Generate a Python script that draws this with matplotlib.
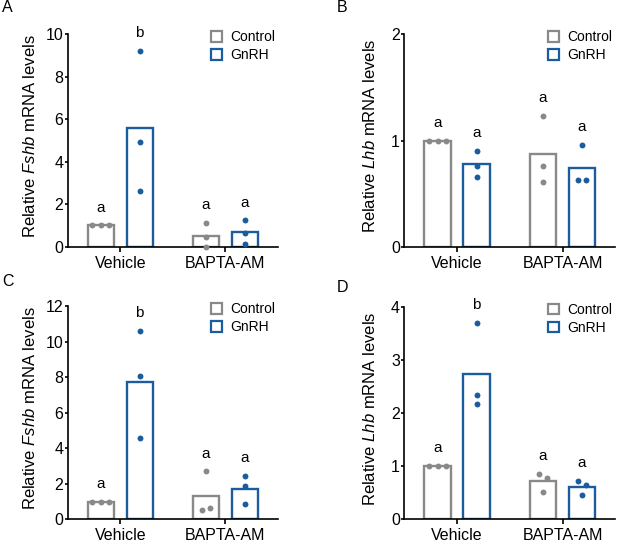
import matplotlib
matplotlib.use("Agg")
import matplotlib.pyplot as plt
from matplotlib.patches import Patch
import numpy as np

plt.rcParams["font.family"] = ["Liberation Sans", "DejaVu Sans"]
plt.rcParams["mathtext.fontset"] = "custom"
plt.rcParams["mathtext.rm"] = "Liberation Sans"
plt.rcParams["mathtext.it"] = "Liberation Sans:italic"

GRAY = "#898989"
BLUE = "#1b5c9e"

groups = ["Vehicle", "BAPTA-AM"]
series = ["Control", "GnRH"]

# individual replicate values, per panel: [group][series] -> points
fshb_a = [[[1.0, 1.0, 1.0], [9.23, 4.91, 2.64]],
          [[1.13, 0.44, 0.0], [1.24, 0.63, 0.14]]]
lhb_b = [[[1.0, 1.0, 1.0], [0.904, 0.763, 0.656]],
         [[1.234, 0.76, 0.612], [0.961, 0.625, 0.625]]]
fshb_c = [[[1.0, 1.0, 1.0], [10.61, 8.06, 4.56]],
          [[2.70, 0.51, 0.66], [2.46, 1.88, 0.85]]]
lhb_d = [[[1.0, 1.0, 1.0], [3.70, 2.34, 2.17]],
         [[0.86, 0.77, 0.51], [0.73, 0.65, 0.45]]]

letters_a = [["a", "b"], ["a", "a"]]
letters_b = [["a", "a"], ["a", "a"]]
letters_c = [["a", "b"], ["a", "a"]]
letters_d = [["a", "b"], ["a", "a"]]

ticks_a = [0, 2, 4, 6, 8, 10]
ticks_b = [0, 1, 2]
ticks_c = [0, 2, 4, 6, 8, 10, 12]
ticks_d = [0, 1, 2, 3, 4]


def spread(vals, ymax, step=0.08):
    """Horizontal offsets so that overlapping dots sit side by side."""
    vals = np.asarray(vals, dtype=float)
    thr = 0.033 * ymax
    offs = np.zeros(len(vals))
    seen = set()
    for i in range(len(vals)):
        if i in seen:
            continue
        grp = [j for j in range(len(vals)) if j not in seen and abs(vals[j] - vals[i]) < thr]
        seen.update(grp)
        n = len(grp)
        for k, j in enumerate(grp):
            offs[j] = (k - (n - 1) / 2) * step
    return offs


def draw_panel(ax, data, letters, ticks, gene, label_x):
    ymax = ticks[-1]
    colors = [GRAY, BLUE]
    for gi, grp in enumerate(data):
        for si, pts in enumerate(grp):
            x = gi + (-0.185 if si == 0 else 0.185)
            ax.bar(x, np.mean(pts), width=0.25, facecolor="white",
                   edgecolor=colors[si], linewidth=1.7, zorder=2)
            ax.scatter(x + spread(pts, ymax), pts, s=18, color=colors[si],
                       linewidths=0, zorder=3, clip_on=False)
            ax.text(x, max(pts) + 0.065 * ymax, letters[gi][si], ha="center",
                    va="baseline", fontsize=11)

    ax.set_xlim(-0.5, 1.5)
    ax.set_ylim(0, ymax)
    ax.set_yticks(ticks)
    ax.set_xticks([0, 1])
    ax.set_xticklabels(groups)
    ax.tick_params(axis="y", length=2.2, width=1.2, pad=1, labelsize=11.5)
    ax.tick_params(axis="x", length=3.5, width=1.2, pad=3, labelsize=11.5)
    for side in ["top", "right"]:
        ax.spines[side].set_visible(False)
    for side in ["left", "bottom"]:
        ax.spines[side].set_linewidth(1.2)

    ax.set_ylabel(f"Relative $\\it{{{gene}}}$ mRNA levels", fontsize=12, va="center")
    ax.yaxis.set_label_coords(label_x, 0.52)

    handles = [Patch(facecolor="white", edgecolor=c, linewidth=1.6) for c in colors]
    ax.legend(handles, series, loc="upper left", bbox_to_anchor=(0.68, 1.02),
              frameon=False, fontsize=10, handlelength=0.8, handleheight=0.8,
              handletextpad=0.6, labelspacing=0.3, borderpad=0, borderaxespad=0)


fig = plt.figure(figsize=(6.17, 5.44), dpi=100)

ax_a = fig.add_axes([0.1097, 0.5465, 0.3408, 0.3904])
ax_b = fig.add_axes([0.6553, 0.5465, 0.3420, 0.3904])
ax_c = fig.add_axes([0.1097, 0.0454, 0.3408, 0.3915])
ax_d = fig.add_axes([0.6553, 0.0454, 0.3420, 0.3903])

draw_panel(ax_a, fshb_a, letters_a, ticks_a, "Fshb", -0.177)
draw_panel(ax_b, lhb_b, letters_b, ticks_b, "Lhb", -0.163)
draw_panel(ax_c, fshb_c, letters_c, ticks_c, "Fshb", -0.177)
draw_panel(ax_d, lhb_d, letters_d, ticks_d, "Lhb", -0.163)

fig.text(0.003, 1.0, "A", fontsize=11.5, va="top", ha="left")
fig.text(0.546, 1.0, "B", fontsize=11.5, va="top", ha="left")
fig.text(0.003, 0.497, "C", fontsize=11.5, va="top", ha="left")
fig.text(0.546, 0.485, "D", fontsize=11.5, va="top", ha="left")

fig.savefig("out.png", dpi=100)
